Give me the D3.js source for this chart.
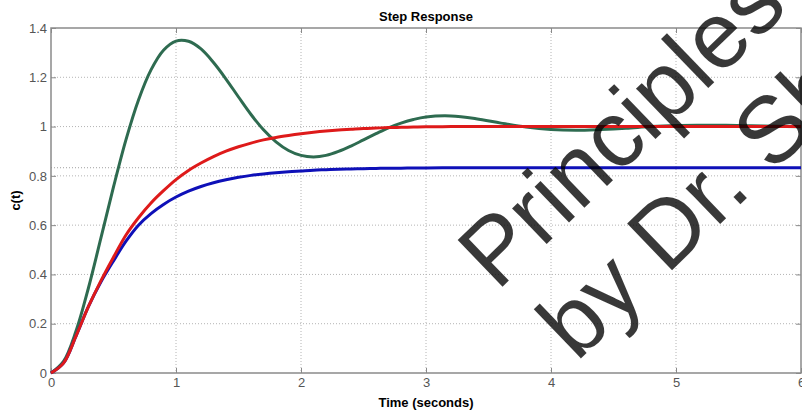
<!DOCTYPE html>
<html>
<head>
<meta charset="utf-8">
<script src="https://cdn.jsdelivr.net/npm/d3@7"></script>
<style>
  body { margin: 0; background: #fff; }
</style>
</head>
<body>
<div id="chart"></div>
<script>
// Step response data
const times = [0, 0.1, 0.2, 0.3, 0.4, 0.5, 0.6, 0.7, 0.8, 0.9, 1.0, 1.1, 1.2, 1.3, 1.4, 1.5, 1.6, 1.7, 1.8, 1.9,
  2.0, 2.1, 2.2, 2.3, 2.4, 2.5, 2.6, 2.7, 2.8, 2.9, 3.0, 3.2, 3.4, 3.6, 3.8, 4.0, 4.2, 4.4, 4.6, 4.8,
  5.0, 5.2, 5.4, 5.6, 5.8, 6.0];

const greenResp = [0, 0.047, 0.170, 0.346, 0.549, 0.755, 0.947, 1.108, 1.230, 1.310, 1.347, 1.346, 1.315, 1.260, 1.193, 1.120, 1.049, 0.987, 0.938, 0.903,
  0.883, 0.877, 0.883, 0.899, 0.921, 0.946, 0.971, 0.995, 1.014, 1.029, 1.039, 1.043, 1.032, 1.014, 0.998, 0.988, 0.985, 0.988, 0.993, 1.000,
  1.004, 1.005, 1.005, 1.003, 1.001, 0.999];

const blueResp = [0, 0.04, 0.15, 0.27, 0.37, 0.455, 0.535, 0.600, 0.647, 0.684, 0.714, 0.738, 0.757, 0.772, 0.784, 0.794, 0.802, 0.808, 0.813, 0.817,
  0.820, 0.823, 0.825, 0.827, 0.828, 0.829, 0.830, 0.831, 0.831, 0.832, 0.832, 0.833, 0.833, 0.833, 0.833, 0.833, 0.833, 0.833, 0.833, 0.833,
  0.833, 0.833, 0.833, 0.833, 0.833, 0.833];

const redResp = [0, 0.04, 0.15, 0.27, 0.375, 0.47, 0.56, 0.63, 0.69, 0.74, 0.785, 0.822, 0.852, 0.878, 0.9, 0.918, 0.933, 0.946, 0.956, 0.964,
  0.971, 0.977, 0.982, 0.986, 0.989, 0.992, 0.994, 0.996, 0.997, 0.998, 0.999, 1.0, 1.0, 1.0, 1.0, 1.0, 1.0, 1.0, 1.0, 1.0,
  1.0, 1.0, 1.0, 1.0, 1.0, 1.0];

const steadyState = 0.833;

const xTicks = [0, 1, 2, 3, 4, 5, 6];
const yTicks = [0, 0.2, 0.4, 0.6, 0.8, 1, 1.2, 1.4];

// Chart dimensions
const width = 802;
const height = 411;
const margin = { top: 28, right: 1, bottom: 38, left: 51 };
const plotW = width - margin.left - margin.right;
const plotH = height - margin.top - margin.bottom;

const svg = d3.select("#chart").append("svg")
    .attr("width", width)
    .attr("height", height)
    .style("font-family", "Liberation Sans, Arial, sans-serif");

const g = svg.append("g")
    .attr("transform", `translate(${margin.left},${margin.top})`);

const x = d3.scaleLinear().domain([0, 6]).range([0, plotW]);
const y = d3.scaleLinear().domain([0, 1.4]).range([plotH, 0]);

// dotted grid
g.append("g").selectAll("line")
    .data(xTicks.slice(1, -1))
    .join("line")
    .attr("x1", d => x(d)).attr("x2", d => x(d))
    .attr("y1", 0).attr("y2", plotH)
    .attr("stroke", "#b4b4b4")
    .attr("stroke-dasharray", "1,2");

g.append("g").selectAll("line")
    .data(yTicks.slice(1, -1))
    .join("line")
    .attr("x1", 0).attr("x2", plotW)
    .attr("y1", d => y(d)).attr("y2", d => y(d))
    .attr("stroke", "#b4b4b4")
    .attr("stroke-dasharray", "1,2");

// steady state marker line
g.append("line")
    .attr("x1", 0).attr("x2", plotW)
    .attr("y1", y(steadyState)).attr("y2", y(steadyState))
    .attr("stroke", "#a0a0a0")
    .attr("stroke-dasharray", "1,2");

// axes, ticks pointing inward
const axisColor = "#8a8a8a";
function styleAxis(sel) {
  sel.select(".domain").remove();
  sel.selectAll(".tick line").attr("stroke", axisColor);
  sel.selectAll(".tick text").attr("fill", "#555").attr("font-size", 13);
}

g.append("g")
    .attr("transform", `translate(0,${plotH})`)
    .call(d3.axisBottom(x).tickValues(xTicks).tickFormat(d3.format("d")).tickSizeInner(-5).tickPadding(5))
    .call(styleAxis);

g.append("g")
    .call(d3.axisLeft(y).tickValues(yTicks).tickFormat(d => d === 0 || d === 1 ? d3.format("d")(d) : d3.format(".1f")(d)).tickSizeInner(-5).tickPadding(4))
    .call(styleAxis);

g.append("g")
    .call(d3.axisTop(x).tickValues(xTicks).tickFormat("").tickSizeInner(-5))
    .call(styleAxis);

g.append("g")
    .attr("transform", `translate(${plotW},0)`)
    .call(d3.axisRight(y).tickValues(yTicks).tickFormat("").tickSizeInner(-5))
    .call(styleAxis);

// frame
g.append("rect")
    .attr("width", plotW)
    .attr("height", plotH)
    .attr("fill", "none")
    .attr("stroke", axisColor)
    .attr("stroke-width", 1.5);

// curves
const line = d3.line()
    .x(d => x(d[0]))
    .y(d => y(d[1]))
    .curve(d3.curveCatmullRom.alpha(0.5));

const series = [
  { values: greenResp, color: "#2e6b50" },
  { values: blueResp, color: "#0e10b8" },
  { values: redResp, color: "#de1a1a" }
];

series.forEach(s => {
  g.append("path")
      .datum(times.map((t, i) => [t, s.values[i]]))
      .attr("d", line)
      .attr("fill", "none")
      .attr("stroke", s.color)
      .attr("stroke-width", 3)
      .attr("stroke-linejoin", "round");
});

// title and labels
svg.append("text")
    .attr("x", margin.left + plotW / 2)
    .attr("y", 21)
    .attr("text-anchor", "middle")
    .attr("font-size", 13)
    .attr("font-weight", "bold")
    .text("Step Response");

svg.append("text")
    .attr("x", margin.left + plotW / 2)
    .attr("y", 407)
    .attr("text-anchor", "middle")
    .attr("font-size", 13)
    .attr("font-weight", "bold")
    .text("Time (seconds)");

svg.append("text")
    .attr("transform", `translate(20,${margin.top + plotH / 2}) rotate(-90)`)
    .attr("text-anchor", "middle")
    .attr("font-size", 13)
    .attr("font-weight", "bold")
    .text("c(t)");

// watermark
const wm = svg.append("g")
    .attr("transform", "translate(497,292) rotate(-44)")
    .attr("fill", "#000")
    .attr("fill-opacity", 0.78)
    .attr("font-size", 94);

wm.append("text").attr("x", 0).attr("y", 0).text("Principles");
wm.append("text").attr("x", 8).attr("y", 106).text("by Dr. Sh");
</script>
</body>
</html>
